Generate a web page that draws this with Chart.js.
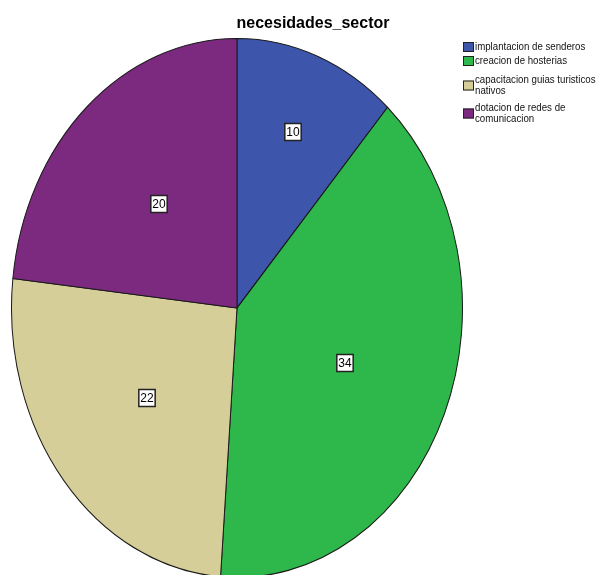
<!DOCTYPE html>
<html>
<head>
<meta charset="utf-8">
<script src="https://cdn.jsdelivr.net/npm/chart.js@4"></script>
<style>
html,body{margin:0;padding:0;background:#fff;}
canvas{display:block;}
</style>
</head>
<body>
<canvas id="c" width="612" height="575"></canvas>
<script>
const chartTitle = 'necesidades_sector';
const categories = ['implantacion de senderos', 'creacion de hosterias', 'capacitacion guias turisticos nativos', 'dotacion de redes de comunicacion'];
const legendLines = [['implantacion de senderos'], ['creacion de hosterias'], ['capacitacion guias turisticos', 'nativos'], ['dotacion de redes de', 'comunicacion']];
const counts = [10, 34, 22, 20];
const sliceColors = ['#3d56ac', '#2eb84b', '#d5ce98', '#7c2a80'];

const SY = 1.195; // vertical stretch of the ellipse

const ellipsePlugin = {
  id: 'ellipse',
  beforeDatasetsDraw(chart) {
    const m = chart.getDatasetMeta(0).data[0];
    const ctx = chart.ctx;
    ctx.save();
    ctx.translate(m.x, m.y);
    ctx.scale(1, SY);
    ctx.translate(-m.x, -m.y);
  },
  afterDatasetsDraw(chart) {
    const ctx = chart.ctx;
    ctx.restore();
    const meta = chart.getDatasetMeta(0);
    const total = counts.reduce((a, b) => a + b, 0);
    ctx.save();
    ctx.font = '12px Arial, "Liberation Sans", sans-serif';
    ctx.textAlign = 'center';
    ctx.textBaseline = 'middle';
    meta.data.forEach((arc, i) => {
      const mid = (arc.startAngle + arc.endAngle) / 2;
      const frac = counts[i] / total < 0.15 ? 0.7 : 0.52;
      const r = arc.outerRadius * frac;
      const x = Math.round(arc.x + r * Math.cos(mid));
      const y = Math.round(arc.y + r * Math.sin(mid) * SY);
      const txt = String(counts[i]);
      const w = ctx.measureText(txt).width + 3;
      const h = 17;
      ctx.fillStyle = '#ffffff';
      ctx.fillRect(x - w / 2, y - h / 2, w, h);
      ctx.strokeStyle = '#222';
      ctx.lineWidth = 1.5;
      ctx.strokeRect(x - w / 2, y - h / 2, w, h);
      ctx.fillStyle = '#000';
      ctx.fillText(txt, x, y + 1);
    });
    ctx.restore();
  },
  afterDraw(chart) {
    const ctx = chart.ctx;
    ctx.save();
    // title
    ctx.font = 'bold 16px Arial, "Liberation Sans", sans-serif';
    ctx.fillStyle = '#000';
    ctx.textAlign = 'center';
    ctx.textBaseline = 'alphabetic';
    ctx.fillText(chartTitle, 313, 28);
    // legend
    const rows = [47, 61, 80, 108];
    ctx.font = '11px Arial, "Liberation Sans", sans-serif';
    ctx.textAlign = 'left';
    ctx.textBaseline = 'middle';
    legendLines.forEach((lines, i) => {
      const y0 = rows[i];
      const boxY = lines.length > 1 ? y0 + 0.5 : y0 - 5;
      ctx.fillStyle = sliceColors[i];
      ctx.fillRect(463, boxY, 11, 10);
      ctx.strokeStyle = '#222';
      ctx.lineWidth = 1;
      ctx.strokeRect(463.5, boxY + 0.5, 10, 9);
      ctx.fillStyle = '#111';
      lines.forEach((ln, j) => {
        ctx.save();
        ctx.translate(475, y0 + j * 11);
        ctx.scale(0.88, 1);
        ctx.fillText(ln, 0, 0);
        ctx.restore();
      });
    });
    ctx.restore();
  }
};

new Chart(document.getElementById('c'), {
  type: 'pie',
  data: {
    labels: categories,
    datasets: [{
      data: counts,
      backgroundColor: sliceColors,
      borderColor: '#1a1a1a',
      borderWidth: 1,
      clip: false
    }]
  },
  options: {
    responsive: false,
    animation: false,
    events: [],
    layout: { padding: { left: 11, right: 149, top: 82, bottom: 41 } },
    plugins: {
      legend: { display: false },
      title: { display: false },
      tooltip: { enabled: false }
    }
  },
  plugins: [ellipsePlugin]
});
</script>
</body>
</html>
